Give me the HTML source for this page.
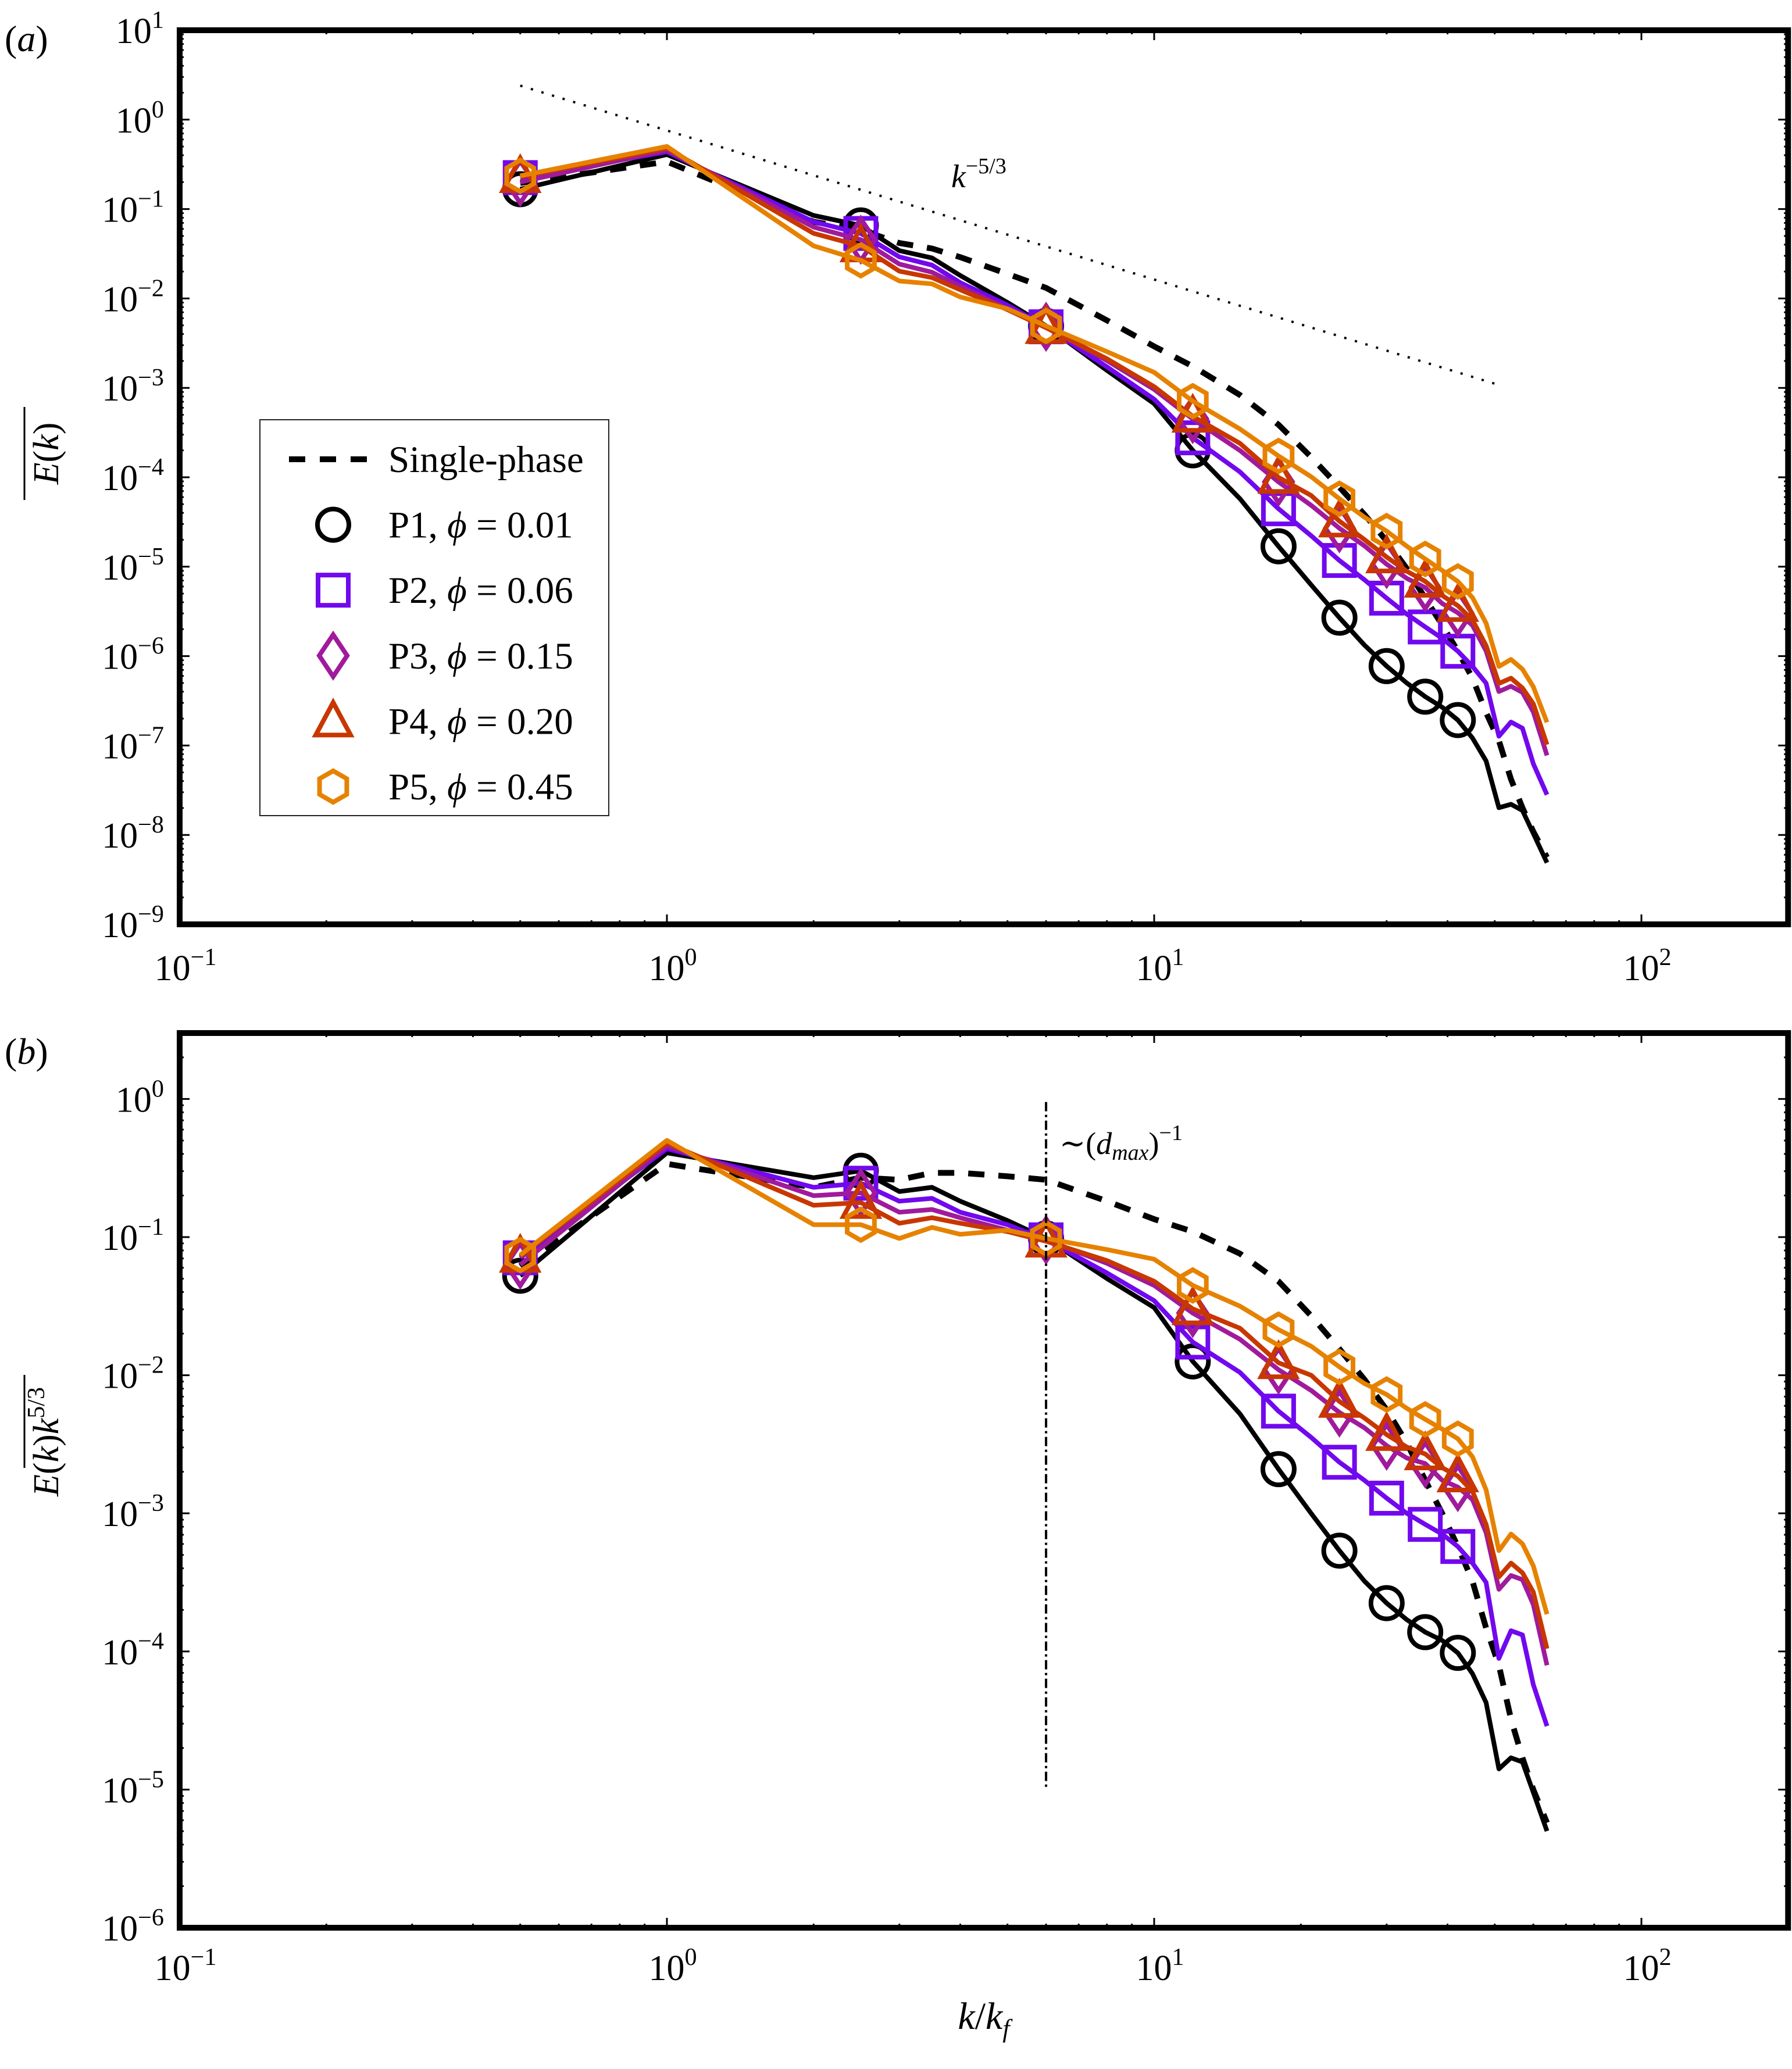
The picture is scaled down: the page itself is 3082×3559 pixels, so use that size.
<!DOCTYPE html>
<html><head><meta charset="utf-8"><style>
html,body{margin:0;padding:0;background:#fff}
svg{display:block}
text{font-family:"Liberation Serif","DejaVu Serif",serif;fill:#000}
</style></head>
<body>
<svg id="chart" xmlns="http://www.w3.org/2000/svg" width="3082" height="3559" viewBox="0 0 3082 3559">
<defs>
<clipPath id="clipA"><rect x="309" y="52" width="2766" height="1538"/></clipPath>
<clipPath id="clipB"><rect x="309" y="1777" width="2766" height="1539"/></clipPath>
</defs>
<g id="panelA"></g>
<g id="panelB"></g>
</svg>
<script>
// ---- data (log10 of compensated spectrum E(k) k^{5/3}) ----
const K = [0.5,1,2,2.5,3,3.5,4,5,6,8,10,12,15,18,21,24,27,30,33,36,39,42,45,48,51,54,57,60,64];
const seriesNames = ["Single-phase","P1","P2","P3","P4","P5"];
const logSP = [-1.21,-0.47,-0.64,-0.57,-0.585,-0.535,-0.535,-0.56,-0.585,-0.74,-0.87,-0.96,-1.12,-1.32,-1.57,-1.81,-2.03,-2.25,-2.49,-2.76,-3.0,-3.24,-3.49,-3.83,-4.1,-4.49,-4.77,-5.0,-5.24];
const logP1 = [-1.28,-0.39,-0.57,-0.52,-0.67,-0.64,-0.74,-0.88,-1.01,-1.30,-1.51,-1.90,-2.28,-2.68,-3.0,-3.27,-3.49,-3.65,-3.77,-3.86,-3.92,-4.01,-4.16,-4.37,-4.85,-4.77,-4.80,-5.02,-5.3];
const logP2 = [-1.15,-0.36,-0.64,-0.61,-0.74,-0.72,-0.82,-0.91,-1.02,-1.26,-1.46,-1.76,-1.98,-2.26,-2.45,-2.63,-2.76,-2.89,-3.0,-3.08,-3.15,-3.24,-3.36,-3.50,-4.05,-3.85,-3.88,-4.24,-4.54];
const logP3 = [-1.20,-0.34,-0.70,-0.68,-0.82,-0.80,-0.86,-0.95,-1.02,-1.19,-1.35,-1.55,-1.74,-1.96,-2.11,-2.27,-2.38,-2.51,-2.60,-2.64,-2.76,-2.81,-2.90,-3.14,-3.55,-3.45,-3.48,-3.66,-4.10];
const logP4 = [-1.14,-0.32,-0.77,-0.75,-0.90,-0.86,-0.90,-0.96,-1.03,-1.17,-1.32,-1.52,-1.66,-1.91,-2.0,-2.19,-2.31,-2.43,-2.52,-2.57,-2.67,-2.73,-2.84,-3.08,-3.46,-3.36,-3.43,-3.57,-3.98];
const logP5 = [-1.13,-0.30,-0.91,-0.91,-1.01,-0.93,-0.98,-0.95,-1.01,-1.09,-1.16,-1.35,-1.50,-1.67,-1.79,-1.94,-2.06,-2.14,-2.24,-2.32,-2.39,-2.46,-2.59,-2.83,-3.27,-3.15,-3.22,-3.38,-3.73];
const markerK = [0.5,2.5,6,12,18,24,30,36,42];
const xTickExps = [-1,0,1,2];
const yTickExpsA = [1,0,-1,-2,-3,-4,-5,-6,-7,-8,-9];
const yTickExpsB = [0,-1,-2,-3,-4,-5,-6];
const refSlopeK = [0.5,50];   // k^{-5/3} reference line extent
const refSlopeC = 0.756;      // prefactor
const dmaxK = 6;              // ~(d_max)^-1 marker position
const dmaxRange = [1.0e-5,0.95];

// ---- axes ----
const X0=309, XDEC=838, XMINLOG=-1, XMAXLOG=Math.log10(200);
function xs(k){return X0+(Math.log10(k)-XMINLOG)*XDEC;}
const A={top:52,bottom:1590,maxLog:1,minLog:-9};
const B={top:1777,bottom:3316,maxLog:Math.log10(3),minLog:-6};
function ymap(P,logv){return P.top+(P.maxLog-logv)*(P.bottom-P.top)/(P.maxLog-P.minLog);}
const XR=X0+(XMAXLOG-XMINLOG)*XDEC;

const NS="http://www.w3.org/2000/svg";
function mk(tag,attrs,parent){const e=document.createElementNS(NS,tag);for(const k in attrs)e.setAttribute(k,attrs[k]);parent.appendChild(e);return e;}

const colors={SP:"#000",P1:"#000",P2:"#7108ee",P3:"#a01a9c",P4:"#c83700",P5:"#e68200"};
const series=[["P1",logP1,"circle"],["P2",logP2,"square"],["P3",logP3,"diamond"],["P4",logP4,"triangle"],["P5",logP5,"hexagon"]];

function marker(g,shape,cx,cy,color,name){
  let e;
  const sw=8;
  if(shape==="circle"){e=mk("circle",{cx:cx,cy:cy,r:27,fill:"none",stroke:color,"stroke-width":sw},g);}
  else if(shape==="square"){e=mk("rect",{x:cx-26,y:cy-26,width:52,height:52,fill:"none",stroke:color,"stroke-width":sw},g);}
  else if(shape==="diamond"){e=mk("polygon",{points:`${cx},${cy-36} ${cx+24},${cy} ${cx},${cy+36} ${cx-24},${cy}`,fill:"none",stroke:color,"stroke-width":sw},g);}
  else if(shape==="triangle"){e=mk("polygon",{points:`${cx},${cy-32} ${cx+30},${cy+24} ${cx-30},${cy+24}`,fill:"none",stroke:color,"stroke-width":sw},g);}
  else {const p=[];for(let i=0;i<6;i++){const a=Math.PI/2+i*Math.PI/3;p.push((cx+27*Math.cos(a)).toFixed(1)+","+(cy-27*Math.sin(a)).toFixed(1));}
    e=mk("polygon",{points:p.join(" "),fill:"none",stroke:color,"stroke-width":sw},g);}
  
  
  return e;
}

function supLabel(g,x,y,base,exp,anchor,size,name){
  const t=mk("text",{x:x,y:y,"font-size":size,"text-anchor":anchor},g);
  
  
  const b=document.createElementNS(NS,"tspan");b.textContent=base;t.appendChild(b);
  const s=document.createElementNS(NS,"tspan");s.setAttribute("dy",-size*0.42);s.setAttribute("font-size",size*0.68);
  s.textContent=exp;t.appendChild(s);
  return t;
}

function drawAxes(P,g,yExps,xLabelY,tag){
  const tk=mk("g",{stroke:"#000","stroke-width":3},g);
  
  
  for(let e=XMINLOG;e<=2;e++){
    for(let m=1;m<10;m++){const v=m*Math.pow(10,e);const lv=Math.log10(v);if(lv>XMAXLOG)break;
      const x=xs(v);const L=m===1?17:7;
      mk("line",{x1:x,y1:P.bottom,x2:x,y2:P.bottom-L},tk);
      mk("line",{x1:x,y1:P.top,x2:x,y2:P.top+L},tk);}
  }
  for(let e=Math.floor(P.minLog);e<=Math.ceil(P.maxLog);e++){
    for(let m=1;m<10;m++){const lv=Math.log10(m*Math.pow(10,e));if(lv<P.minLog-1e-9||lv>P.maxLog+1e-9)continue;
      const y=ymap(P,lv);const L=m===1?17:7;
      mk("line",{x1:X0,y1:y,x2:X0+L,y2:y},tk);
      mk("line",{x1:XR,y1:y,x2:XR-L,y2:y},tk);}
  }
  const fr=mk("rect",{x:X0,y:P.top,width:XR-X0,height:P.bottom-P.top,fill:"none",stroke:"#000","stroke-width":10},g);
  
  
  xTickExps.forEach(e=>{supLabel(g,xs(Math.pow(10,e))+10,xLabelY,"10",e<0?"\u2212"+(-e):String(e),"middle",62,tag+'-x-tick-label');});
  yExps.forEach(e=>{supLabel(g,282,ymap(P,e)+22,"10",e<0?"\u2212"+(-e):String(e),"end",62,tag+'-y-tick-label');});
}

function drawSeries(P,g,clip,compensated,tag){
  const cg=mk("g",{"clip-path":`url(#${clip})`},g);
  
  
  const val=(lg,k)=>compensated?lg:lg-5/3*Math.log10(k);
  let d=K.map((k,i)=>(i?"L":"M")+xs(k).toFixed(1)+","+ymap(P,val(logSP[i],k)).toFixed(1)).join(" ");
  const sp=mk("path",{d:d,fill:"none",stroke:"#000","stroke-width":10,"stroke-dasharray":"28 24"},cg);
  
  
  series.forEach(([nm,arr,shape])=>{
    const sg=mk("g",{},cg);
    
    
    const dd=K.map((k,i)=>(i?"L":"M")+xs(k).toFixed(1)+","+ymap(P,val(arr[i],k)).toFixed(1)).join(" ");
    const ln=mk("path",{d:dd,fill:"none",stroke:colors[nm],"stroke-width":8,"stroke-linejoin":"round"},sg);
    
    
    markerK.forEach(mkk=>{const i=K.indexOf(mkk);marker(sg,shape,xs(mkk),ymap(P,val(arr[i],mkk)),colors[nm],nm.toLowerCase()+'-marker');});
  });
}

// ---- panel a ----
const gA=document.getElementById("panelA");
drawSeries(A,gA,"clipA",false,"panel-a");
const ref=mk("line",{x1:xs(refSlopeK[0]),y1:ymap(A,Math.log10(refSlopeC)-5/3*Math.log10(refSlopeK[0])),x2:xs(refSlopeK[1]),y2:ymap(A,Math.log10(refSlopeC)-5/3*Math.log10(refSlopeK[1])),stroke:"#000","stroke-width":4,"stroke-dasharray":"4 15"},gA);


drawAxes(A,gA,yTickExpsA,1686,"panel-a");
const refLbl=mk("text",{x:1636,y:322,"font-size":56,"font-style":"italic"},gA);


refLbl.innerHTML='k<tspan dy="-24" font-size="38" font-style="normal">\u22125/3</tspan>';

// legend
const lg=mk("g",{},gA);


const lbox=mk("rect",{x:447,y:722,width:600,height:681,fill:"#fff",stroke:"#222","stroke-width":2},lg);


const legRows=[["Single-phase",null,null],["P1, ","circle",colors.P1,"0.01"],["P2, ","square",colors.P2,"0.06"],["P3, ","diamond",colors.P3,"0.15"],["P4, ","triangle",colors.P4,"0.20"],["P5, ","hexagon",colors.P5,"0.45"]];
legRows.forEach((r,i)=>{
  const cy=790+i*112.6;
  const eg=mk("g",{},lg);
  
  
  if(!r[1]){mk("line",{x1:497,y1:cy,x2:633,y2:cy,stroke:"#000","stroke-width":10,"stroke-dasharray":"28 25"},eg);}
  else marker(eg,r[1],573,cy,r[2],'legend-marker');
  const t=mk("text",{x:668,y:cy+22,"font-size":65},eg);
  
  
  if(!r[1])t.textContent=r[0];
  else t.innerHTML=r[0]+'<tspan font-style="italic">\u03d5</tspan> = '+r[3];
});

// ---- panel b ----
const gB=document.getElementById("panelB");
drawSeries(B,gB,"clipB",true,"panel-b");
const dm=mk("line",{x1:xs(dmaxK),y1:ymap(B,Math.log10(dmaxRange[1])),x2:xs(dmaxK),y2:ymap(B,Math.log10(dmaxRange[0])),stroke:"#000","stroke-width":4,"stroke-dasharray":"16 6 4 6"},gB);


drawAxes(B,gB,yTickExpsB,3406,"panel-b");
const dl=mk("text",{x:1822,y:1985,"font-size":54},gB);


dl.innerHTML='\u223c(<tspan font-style="italic">d</tspan><tspan font-style="italic" font-size="38" dy="10">max</tspan><tspan dy="-10">)</tspan><tspan dy="-24" font-size="38">\u22121</tspan>';

// ---- labels ----
const svg=document.getElementById("chart");
const la=mk("text",{x:8,y:88,"font-size":64,"font-style":"italic"},svg);


la.innerHTML='<tspan font-style="normal">(</tspan>a<tspan font-style="normal">)</tspan>';
const lb=mk("text",{x:8,y:1830,"font-size":64,"font-style":"italic"},svg);


lb.innerHTML='<tspan font-style="normal">(</tspan>b<tspan font-style="normal">)</tspan>';
const yla=mk("text",{x:0,y:0,"font-size":62,"font-style":"italic","text-anchor":"middle",transform:"translate(100,780) rotate(-90)"},svg);


yla.innerHTML='E<tspan font-style="normal">(</tspan>k<tspan font-style="normal">)</tspan>';
const ola=mk("line",{x1:42,y1:700,x2:42,y2:860,stroke:"#000","stroke-width":3},svg);


const ylb=mk("text",{x:0,y:0,"font-size":62,"font-style":"italic","text-anchor":"middle",transform:"translate(100,2480) rotate(-90)"},svg);


ylb.innerHTML='E<tspan font-style="normal">(</tspan>k<tspan font-style="normal">)</tspan>k<tspan font-style="normal" font-size="42" dy="-24">5/3</tspan>';
const olb=mk("line",{x1:42,y1:2365,x2:42,y2:2525,stroke:"#000","stroke-width":3},svg);


const xl=mk("text",{x:1692,y:3490,"font-size":66,"font-style":"italic","text-anchor":"middle"},svg);


xl.innerHTML='k<tspan font-style="normal">/</tspan>k<tspan font-size="44" dy="14">f</tspan>';
</script>
</body></html>
